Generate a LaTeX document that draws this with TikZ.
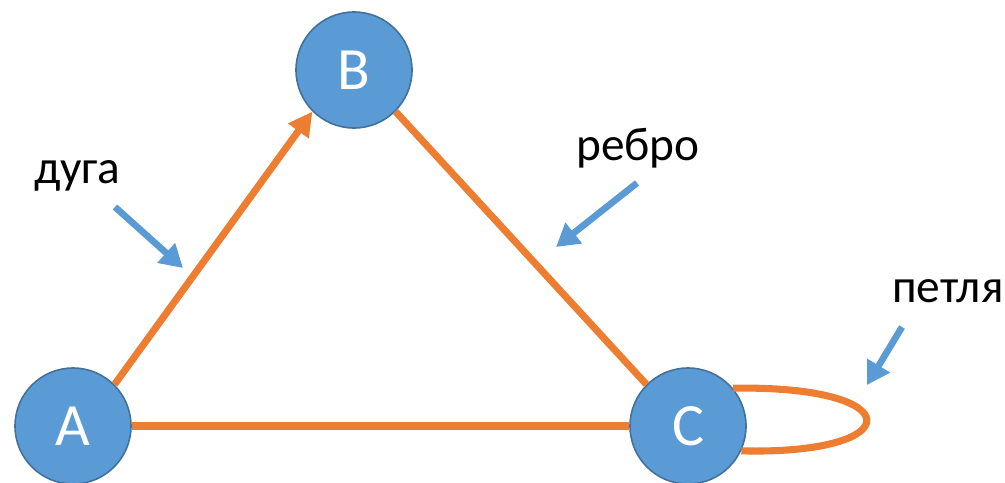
\documentclass[tikz,border=0pt]{standalone}
\usepackage{fontspec}
\setmainfont{Carlito}
\usetikzlibrary{arrows.meta}
\definecolor{vertexblue}{HTML}{5B9BD5}
\definecolor{vertexrim}{HTML}{41719C}
\definecolor{edgeorange}{HTML}{ED7D31}

\begin{document}
\begin{tikzpicture}[x=0.75pt, y=-0.75pt,
    vertex/.style={circle, fill=vertexblue, draw=vertexrim, line width=1.2pt,
      minimum size=87pt, inner sep=0pt, text=white, font=\fontsize{45}{50}\selectfont},
    edge/.style={edgeorange, line width=5.3pt},
    pointer/.style={vertexblue, line width=5pt, -{Triangle[length=17pt,width=19pt]}},
    caption/.style={anchor=base west, inner sep=0pt, font=\fontsize{35.5}{40}\selectfont}]
  \useasboundingbox (0,0) rectangle (1005,482);
  % Vertices of the graph.
  \node[vertex] (A) at (73,426) {A};
  \node[vertex] (B) at (354,70)  {B};
  \node[vertex] (C) at (688,426) {C};
  % Edges: one arc, two plain edges and a loop at C.
  \draw[edge, -{Triangle[length=18pt,width=18pt]}] (A.45) -- (B.225);
  \draw[edge] (B.-45) -- (C.135);
  \draw[edge] (A.east) -- (C.west);
  \draw[edge] (C.40) .. controls (910,385) and (910,455) .. (C.-25);
  % Captions and their pointers.
  \node[caption] (arcname)  at (34,183)  {дуга};
  \node[caption] (edgename) at (576,160) {ребро};
  \node[caption] (loopname) at (892,302) {петля};
  \coordinate (arcfrom)  at (115,207);
  \coordinate (arcto)    at (183,268);
  \coordinate (edgefrom) at (637,183);
  \coordinate (edgeto)   at (556,247);
  \coordinate (loopfrom) at (902,327);
  \coordinate (loopto)   at (867,385);
  \draw[pointer] (arcfrom) -- (arcto);
  \draw[pointer] (edgefrom) -- (edgeto);
  \draw[pointer] (loopfrom) -- (loopto);
\end{tikzpicture}
\end{document}
